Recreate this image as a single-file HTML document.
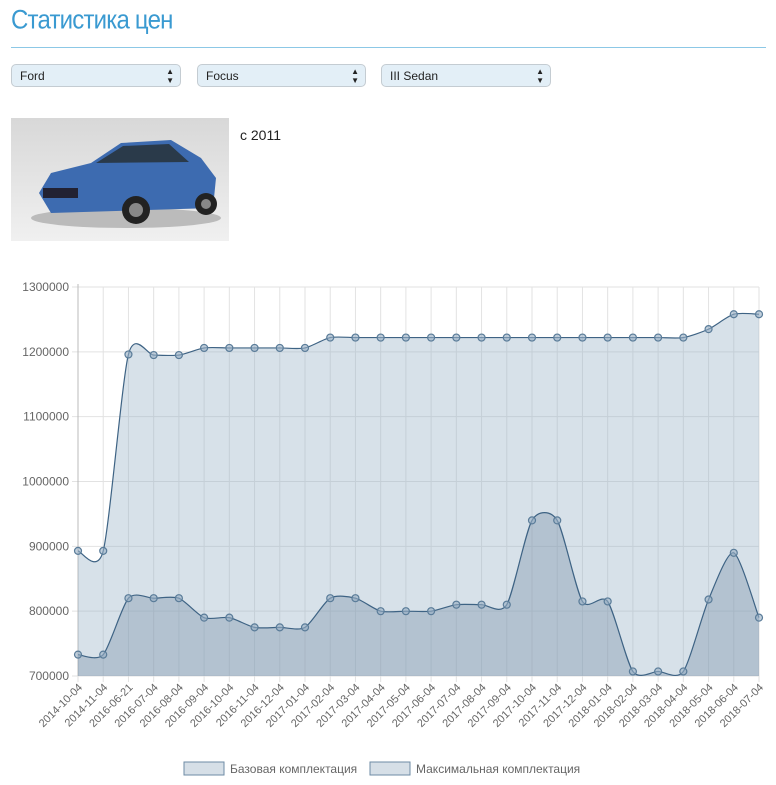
<!DOCTYPE html>
<html><head><meta charset="utf-8"><style>
body{margin:0;width:776px;height:785px;background:#fff;font-family:"Liberation Sans",sans-serif;position:relative;overflow:hidden}
.title{position:absolute;left:11px;top:5px;font-size:24px;color:#3a9ad1;letter-spacing:-0.8px;transform:scaleY(1.12);transform-origin:left top}
.hr{position:absolute;left:11px;top:47px;width:755px;height:1px;background:#8cc8e6}
.sel{position:absolute;top:64px;height:23px;border:1px solid #c4ccd2;border-radius:5px;background:#e3eff7;font-size:12px;line-height:22px;padding-left:8px;box-sizing:border-box;color:#222}
.sel span{position:absolute;right:6px;top:0;font-size:8px;line-height:9px;padding-top:2px}
.img{position:absolute;left:11px;top:118px;width:218px;height:123px;background:linear-gradient(#d8d8d8,#f0f0f0)}
.since{position:absolute;left:240px;top:127px;font-size:14px;color:#222}
</style></head><body>
<div class="title">Статистика цен</div>
<div class="hr"></div>
<div class="sel" style="left:11px;width:170px">Ford<span>▲<br>▼</span></div>
<div class="sel" style="left:197px;width:169px">Focus<span>▲<br>▼</span></div>
<div class="sel" style="left:381px;width:170px">III Sedan<span>▲<br>▼</span></div>
<div class="img">
<svg width="218" height="123"><ellipse cx="115" cy="100" rx="95" ry="10" fill="#bbb"/><path d="M28 75 L40 55 L80 45 L110 25 L160 22 L190 40 L205 60 L202 90 L40 95 Z" fill="#3d6bb0"/><path d="M85 45 L112 28 L158 26 L178 44 Z" fill="#2a3a4a"/><circle cx="125" cy="92" r="14" fill="#222"/><circle cx="125" cy="92" r="7" fill="#888"/><circle cx="195" cy="86" r="11" fill="#222"/><circle cx="195" cy="86" r="5" fill="#888"/><rect x="32" y="70" width="35" height="10" fill="#223"/></svg>
</div>
<div class="since">с 2011</div>
<svg id="chart" width="776" height="785" style="position:absolute;left:0;top:0"></svg>
<script>
const categories=["2014-10-04","2014-11-04","2016-06-21","2016-07-04","2016-08-04","2016-09-04","2016-10-04","2016-11-04","2016-12-04","2017-01-04","2017-02-04","2017-03-04","2017-04-04","2017-05-04","2017-06-04","2017-07-04","2017-08-04","2017-09-04","2017-10-04","2017-11-04","2017-12-04","2018-01-04","2018-02-04","2018-03-04","2018-04-04","2018-05-04","2018-06-04","2018-07-04"];
const baseValues=[733000,733000,820000,820000,820000,790000,790000,775000,775000,775000,820000,820000,800000,800000,800000,810000,810000,810000,940000,940000,815000,815000,707000,707000,707000,818000,890000,790000];
const maxValues=[893000,893000,1196000,1195000,1195000,1206000,1206000,1206000,1206000,1206000,1222000,1222000,1222000,1222000,1222000,1222000,1222000,1222000,1222000,1222000,1222000,1222000,1222000,1222000,1222000,1235000,1258000,1258000];
const yTicks=[700000,800000,900000,1000000,1100000,1200000,1300000];
const legendLabels=["Базовая комплектация","Максимальная комплектация"];
const svg=document.getElementById('chart');const NS="http://www.w3.org/2000/svg";
const X0=78,X1=759,Y0=676,Y1=287,YMIN=700000,YMAX=1300000;
const xs=i=>X0+(X1-X0)*i/(categories.length-1);
const ys=v=>Y0-(v-YMIN)/(YMAX-YMIN)*(Y0-Y1);
function mk(t,a,p){const e=document.createElementNS(NS,t);for(const k in a)e.setAttribute(k,a[k]);(p||svg).appendChild(e);return e;}
yTicks.forEach(v=>{const l=mk('line',{x1:X0-6,x2:X1,y1:ys(v),y2:ys(v),stroke:'#e2e2e2'});


const t=mk('text',{x:X0-9,y:ys(v)+4,'text-anchor':'end','font-size':12,fill:'#666'});t.textContent=v;

});
categories.forEach((c,i)=>{const l=mk('line',{x1:xs(i),x2:xs(i),y1:Y1,y2:Y0+6,stroke:'#e2e2e2'});


const t=mk('text',{x:0,y:0,'text-anchor':'end','font-size':11,fill:'#666',transform:`translate(${xs(i)+5},${Y0+12}) rotate(-45)`});t.textContent=c;

});
mk('line',{x1:X0,x2:X0,y1:Y1-3,y2:Y0,stroke:'#bbb'});
function curve(vals){const p=vals.map((v,i)=>[xs(i),ys(v)]);let d=`M${p[0][0]},${p[0][1]}`;const t=0.25;
for(let i=0;i<p.length-1;i++){const a=p[Math.max(0,i-1)],b=p[i],c=p[i+1],e=p[Math.min(p.length-1,i+2)];
const c1=[b[0]+(c[0]-a[0])*t/2,b[1]+(c[1]-a[1])*t/2],c2=[c[0]-(e[0]-b[0])*t/2,c[1]-(e[1]-b[1])*t/2];
d+=` C${c1[0]},${c1[1]} ${c2[0]},${c2[1]} ${c[0]},${c[1]}`;}return d;}
[[maxValues,'rgba(151,175,196,0.38)','max-series'],[baseValues,'rgba(120,145,168,0.38)','base-series']].forEach(([vals,fill,name])=>{
const d=curve(vals);
const a=mk('path',{d:d+` L${xs(vals.length-1)},${Y0} L${X0},${Y0} Z`,fill:fill});


const l=mk('path',{d:d,fill:'none',stroke:'#3e6384','stroke-width':1.2});


vals.forEach((v,i)=>{const c=mk('circle',{cx:xs(i),cy:ys(v),r:3.5,fill:'rgba(151,175,196,0.6)',stroke:'#5a7c99','stroke-width':1.2});

});});
[[184,legendLabels[0]],[370,legendLabels[1]]].forEach(([x,txt],i)=>{
const r=mk('rect',{x:x,y:762,width:40,height:13,fill:'#d6dfe7',stroke:'#6e8ba5'});


const t=mk('text',{x:x+46,y:773,'font-size':12,fill:'#666'});t.textContent=txt;

});
</script>
</body></html>
